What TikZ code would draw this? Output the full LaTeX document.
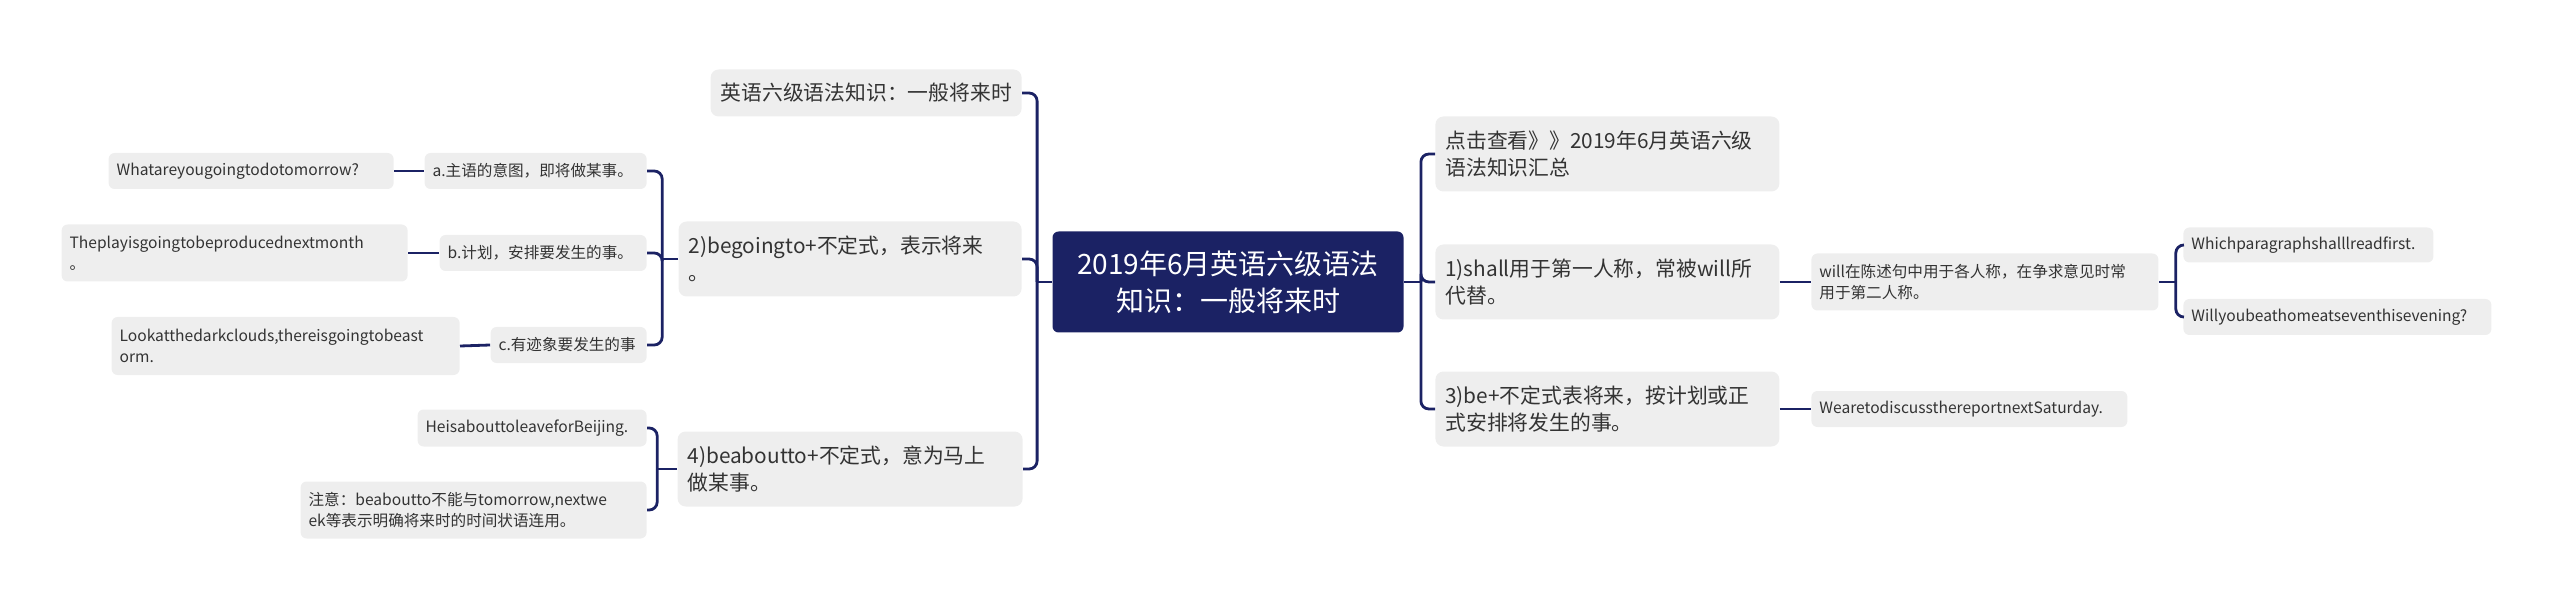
\documentclass[tikz,border=0pt]{standalone}
\usepackage{fontspec}
\setmainfont{Noto Sans CJK SC}
\hyphenpenalty=10000
\exhyphenpenalty=10000
\definecolor{navy}{RGB}{27,34,100}
\definecolor{boxgray}{RGB}{238,238,238}
\definecolor{txt}{RGB}{51,51,51}
\begin{document}
\begin{tikzpicture}[x=0.5pt, y=-0.5pt,
  root/.style={fill=navy, text=white, rounded corners=3pt, align=center, font=\fontsize{14}{18.5}\selectfont, minimum width=175.5pt, minimum height=50.5pt},
  topic/.style={fill=boxgray, text=txt, rounded corners=4pt, align=left, inner xsep=5pt, inner ysep=0pt, minimum height=37.5pt, font=\fontsize{10.4}{13.5}\selectfont},
  leaf/.style={fill=boxgray, text=txt, rounded corners=3pt, align=left, inner xsep=4pt, inner ysep=0pt, minimum height=18pt, font=\fontsize{7.8}{10.5}\selectfont},
  link/.style={draw=navy, line width=1.4pt, rounded corners=4pt}]
\path[use as bounding box] (0,0) rectangle (2560,609);

% Root
\node[root] (root) at (1228,282) {2019年6月英语六级语法\\知识：一般将来时};

% Left branches
\node[topic, anchor=east, text width=145.5pt, minimum height=23.5pt] (l1) at (1022,93) {英语六级语法知识：一般将来时};
\node[topic, anchor=east, text width=161.5pt] (l2) at (1022,259) {2)begoingto+不定式，表示将来\\。};
\node[topic, anchor=east, text width=162.5pt] (l4) at (1023,469) {4)beaboutto+不定式，意为马上\\做某事。};

% be going to
\node[leaf, anchor=east, text width=103pt] (l2a) at (647,171) {a.主语的意图，即将做某事。};
\node[leaf, anchor=east, text width=95.5pt] (l2b) at (647,253) {b.计划，安排要发生的事。};
\node[leaf, anchor=east, text width=70pt] (l2c) at (647,345) {c.有迹象要发生的事};
\node[leaf, anchor=east, text width=134.5pt] (exa) at (394,171) {Whatareyougoingtodotomorrow?};
\node[leaf, anchor=east, text width=165pt, minimum height=28.5pt] (exb) at (408,253) {Theplayisgoingtobeproducednextmonth\\。};
\node[leaf, anchor=east, text width=166pt, minimum height=29pt] (exc) at (460,346) {Lookatthedarkclouds,thereisgoingtobeast\\orm.};

% be about to
\node[leaf, anchor=east, text width=106.5pt, minimum height=18.5pt] (l4a) at (647,428) {HeisabouttoleaveforBeijing.};
\node[leaf, anchor=east, text width=165pt, minimum height=28.5pt] (l4b) at (647,510) {注意：beaboutto不能与tomorrow,nextwe\\ek等表示明确将来时的时间状语连用。};

% Right branches
\node[topic, anchor=west, text width=162pt] (r1) at (1435,154) {点击查看》》2019年6月英语六级\\语法知识汇总};
\node[topic, anchor=west, text width=162pt] (r2) at (1435,282) {1)shall用于第一人称，常被will所\\代替。};
\node[topic, anchor=west, text width=162pt] (r3) at (1435,409) {3)be+不定式表将来，按计划或正\\式安排将发生的事。};

% shall / will
\node[leaf, anchor=west, text width=165.5pt, minimum height=28.5pt] (r2a) at (1811,282) {will在陈述句中用于各人称，在争求意见时常\\用于第二人称。};
\node[leaf, anchor=west, text width=117pt, minimum height=17.5pt] (r2x) at (2183,245) {Whichparagraphshalllreadfirst.};
\node[leaf, anchor=west, text width=146pt] (r2y) at (2183,317) {Willyoubeathomeatseventhisevening?};
\node[leaf, anchor=west, text width=150pt] (r3a) at (1811,409) {WearetodiscussthereportnextSaturday.};

% Connectors
\draw[link] (root.west) -- ++(-15,0) coordinate (lj);
\draw[link] (lj) |- (l1.east);
\draw[link] (lj) |- (l2.east);
\draw[link] (lj) |- (l4.east);
\draw[link] (root.east) -- ++(17,0) coordinate (rj);
\draw[link] (rj) |- (r1.west);
\draw[link] (rj) |- (r2.west);
\draw[link] (rj) |- (r3.west);

\draw[link] (l2.west) -- ++(-16,0) coordinate (l2j);
\draw[link] (l2j) |- (l2a.east);
\draw[link] (l2j) |- (l2b.east);
\draw[link] (l2j) |- (l2c.east);
\draw[link] (l2a.west) -- (exa.east);
\draw[link] (l2b.west) -- (exb.east);
\draw[link] (l2c.west) -- (exc.east);

\draw[link] (l4.west) -- ++(-20,0) coordinate (l4j);
\draw[link] (l4j) |- (l4a.east);
\draw[link] (l4j) |- (l4b.east);

\draw[link] (r2.east) -- (r2a.west);
\draw[link] (r2a.east) -- ++(17,0) coordinate (wj);
\draw[link] (wj) |- (r2x.west);
\draw[link] (wj) |- (r2y.west);
\draw[link] (r3.east) -- (r3a.west);
\end{tikzpicture}
\end{document}
